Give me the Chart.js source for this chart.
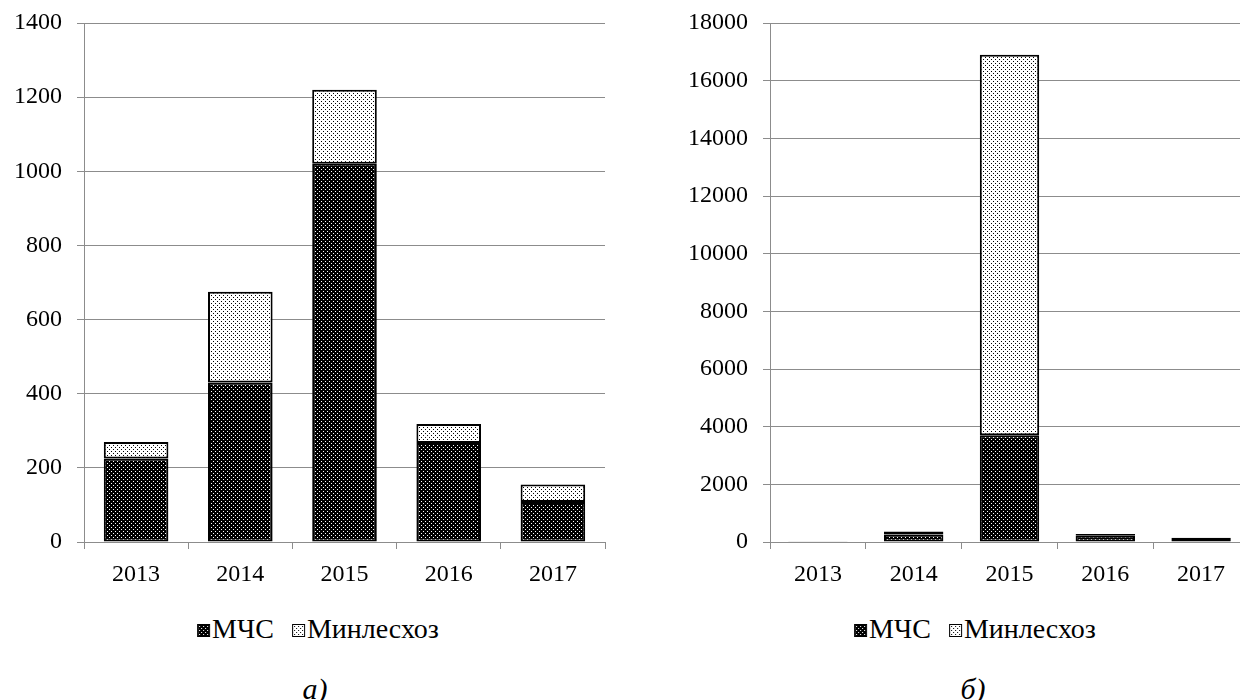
<!DOCTYPE html>
<html>
<head>
<meta charset="utf-8">
<script src="https://cdn.jsdelivr.net/npm/chart.js@4/dist/chart.umd.min.js"></script>
<style>
  body { margin: 0; width: 1240px; height: 700px; overflow: hidden; background: #fff; position: relative; font-family: 'Liberation Serif'; }
  #chartA { position: absolute; left: 0; top: 0; }
  #chartB { position: absolute; left: 620px; top: 0; }
  .legend { position: absolute; top: 612px; transform: translateX(-50%); white-space: nowrap; font-family: 'Liberation Serif'; font-size: 28px; line-height: 34px; color: #000; }
  .legend .item { display: inline-block; margin-right: 18px; }
  .legend .item:last-child { margin-right: 0; }
  .legend .box { display: inline-block; width: 11px; height: 11px; border: 1px solid #000; margin-right: 2px; vertical-align: 1px; }
  .caption { position: absolute; top: 672px; transform: translateX(-50%); font-family: 'Liberation Serif'; font-style: italic; font-size: 30px; line-height: 34px; }
</style>
</head>
<body>
<canvas id="chartA" width="620" height="600"></canvas>
<canvas id="chartB" width="640" height="600"></canvas>

<div class="legend" id="legendA" style="left:318px"></div>
<div class="legend" id="legendB" style="left:975px"></div>
<div class="caption" style="left:315px">а)</div>
<div class="caption" style="left:973px">б)</div>

<script>
const years = ['2013', '2014', '2015', '2016', '2017'];
const seriesNames = ['МЧС', 'Минлесхоз'];

// panel а)
const mchsA = [225, 430, 1020, 267, 108];
const minleskhozA = [45, 245, 200, 51, 47];
// panel б)
const mchsB = [20, 260, 3700, 220, 100];
const minleskhozB = [10, 100, 13200, 60, 50];

// dotted fills: white dots on black, black dots on white
function dotPattern(bg, dot) {
  const c = document.createElement('canvas');
  c.width = 4; c.height = 4;
  const g = c.getContext('2d');
  g.fillStyle = bg;
  g.fillRect(0, 0, 4, 4);
  g.fillStyle = dot;
  g.fillRect(1, 1, 1, 1);
  g.fillRect(3, 3, 1, 1);
  return c;
}
const darkTile = dotPattern('#000', '#fff');
const lightTile = dotPattern('#fff', '#000');

const gridGray = '#8c8c8c';
Chart.defaults.font.family = 'Liberation Serif';
const font = { family: 'Liberation Serif', size: 24 };

function makeChart(canvas, mchs, minleskhoz, yMax, yStep, axisWidth, padRight) {
  const ctx = canvas.getContext('2d');
  const darkFill = ctx.createPattern(darkTile, 'repeat');
  const lightFill = ctx.createPattern(lightTile, 'repeat');
  return new Chart(ctx, {
    type: 'bar',
    data: {
      labels: years,
      datasets: [
        { label: seriesNames[0], data: mchs, backgroundColor: darkFill, borderColor: '#000', borderWidth: 2, borderSkipped: false },
        { label: seriesNames[1], data: minleskhoz, backgroundColor: lightFill, borderColor: '#000', borderWidth: 2, borderSkipped: false }
      ]
    },
    options: {
      responsive: false,
      animation: false,
      layout: { autoPadding: false, padding: { top: 23, right: padRight, bottom: 0, left: 0 } },
      datasets: { bar: { categoryPercentage: 1, barPercentage: 0.62 } },
      plugins: { legend: { display: false }, tooltip: { enabled: false } },
      scales: {
        x: {
          stacked: true,
          afterFit: (s) => { s.height = 58; },
          border: { color: gridGray, width: 1 },
          grid: { offset: true, drawOnChartArea: false, drawTicks: true, tickLength: 7, color: gridGray },
          ticks: { color: '#000', font: font, padding: 11 }
        },
        y: {
          stacked: true,
          min: 0,
          max: yMax,
          // fixed axis width, and no extra room reserved above the top label
          afterFit: (s) => { s.width = axisWidth; s.paddingTop = 0; s.paddingBottom = 0; },
          border: { color: gridGray, width: 1 },
          grid: { color: gridGray, tickLength: 7 },
          ticks: { stepSize: yStep, color: '#000', font: font, padding: 15, callback: (v) => String(v) }
        }
      }
    }
  });
}

function drawAll() {
  makeChart(document.getElementById('chartA'), mchsA, minleskhozA, 1400, 200, 84, 15);
  makeChart(document.getElementById('chartB'), mchsB, minleskhozB, 18000, 2000, 150, 11);
}

// legends under each panel
function buildLegend(el) {
  [darkTile, lightTile].forEach((tile, i) => {
    const item = document.createElement('span');
    item.className = 'item';
    const box = document.createElement('span');
    box.className = 'box';
    box.style.backgroundImage = 'url(' + tile.toDataURL() + ')';
    item.appendChild(box);
    item.appendChild(document.createTextNode(seriesNames[i]));
    el.appendChild(item);
  });
}
buildLegend(document.getElementById('legendA'));
buildLegend(document.getElementById('legendB'));

if (document.fonts && document.fonts.load) {
  document.fonts.load('24px "Liberation Serif"').then(drawAll, drawAll);
} else {
  drawAll();
}
</script>
</body>
</html>
